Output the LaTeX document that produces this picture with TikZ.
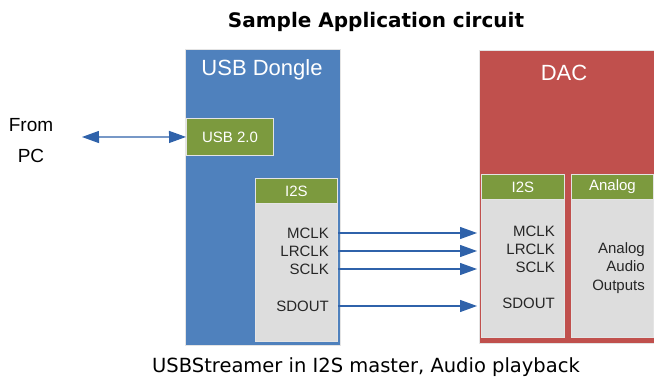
\documentclass[tikz,border=0pt]{standalone}
\usepackage{fontspec}
\setmainfont{Liberation Sans}
\newfontfamily\capfont{DejaVu Sans}
\usetikzlibrary{positioning,arrows.meta}

\definecolor{dongleblue}{HTML}{4F81BD}
\definecolor{dacred}{HTML}{C0504D}
\definecolor{portgreen}{HTML}{7C9A3E}
\definecolor{portgrey}{HTML}{DDDDDD}
\definecolor{wireblue}{HTML}{2F62AA}
\definecolor{rimgrey}{HTML}{E4E4E4}
\definecolor{pintext}{HTML}{262626}

\tikzset{
	block/.style={draw=rimgrey, line width=0.9pt, anchor=north west, inner sep=0pt},
	head/.style={text=white, font=\fontsize{15}{18}\selectfont},
	pin/.style={anchor=east, inner sep=0pt, text=pintext, font=\fontsize{15}{18}\selectfont},
	wire/.style={draw=wireblue, line width=1.2pt, -{Triangle[length=17pt,width=12pt]}},
	dwire/.style={draw=wireblue, line width=1.2pt, {Triangle[length=17pt,width=12pt]}-{Triangle[length=17pt,width=12pt]}}
}

\begin{document}
\begin{tikzpicture}[x=1pt,y=-1pt]
	\useasboundingbox[fill=white] (0,0) rectangle (654,378);

	\node[font=\capfont\bfseries\fontsize{20}{22}\selectfont] (title) at (376,22) {Sample Application circuit};

	\node[block, fill=dongleblue, minimum width=155pt, minimum height=296pt] (dongle) at (185,49) {};
	\node[block, fill=dacred, minimum width=180pt, minimum height=293pt] (dac) at (479,50) {};
	\node[text=white, font=\fontsize{22}{26}\selectfont] (donglename) at (262,70) {USB Dongle};
	\node[text=white, font=\fontsize{22}{26}\selectfont] (dacname) at (564,73) {DAC};

	\node[block, fill=portgreen, minimum width=87pt, minimum height=37pt] (usb) at (186,118) {};
	\node[head] at (usb.center) {USB 2.0};

	\node[block, fill=portgrey, minimum width=82pt, minimum height=163pt] (txport) at (255,178) {};
	\node[block, fill=portgreen, minimum width=82pt, minimum height=25pt] (txhead) at (255,178) {};
	\node[head] at (txhead.center) {I2S};

	\node[block, fill=portgrey, minimum width=83pt, minimum height=163pt] (rxport) at (481,174) {};
	\node[block, fill=portgreen, minimum width=83pt, minimum height=25pt] (rxhead) at (481,174) {};
	\node[head] at (rxhead.center) {I2S};

	\node[block, fill=portgrey, minimum width=82pt, minimum height=163pt] (anport) at (571,174) {};
	\node[block, fill=portgreen, minimum width=82pt, minimum height=25pt] (anhead) at (571,174) {};
	\node[head] at (anhead.center) {Analog};
	\node[pin, align=right, font=\fontsize{15}{18.5}\selectfont] (outs) at (645,268) {Analog\\Audio\\Outputs};

	\node[pin] (mclkout) at (329,233) {MCLK};
	\node[pin] (lrclkout) at (329,251) {LRCLK};
	\node[pin] (sclkout) at (329,269) {SCLK};
	\node[pin] (sdout) at (329,306) {SDOUT};

	\node[pin] (mclkin) at (555,231) {MCLK};
	\node[pin] (lrclkin) at (555,249) {LRCLK};
	\node[pin] (sclkin) at (555,267) {SCLK};
	\node[pin] (sdin) at (555,303) {SDOUT};

	\foreach \s in {mclkout,lrclkout,sclkout,sdout}
		\draw[wire] (\s -| txport.east) -- ([xshift=-2pt]\s -| dac.west);

	\node[align=center, font=\fontsize{19}{31}\selectfont] (pc) at (31,141) {From\\PC};
	\coordinate (pcend) at (82,137);
	\draw[dwire] (pcend) -- (usb.west);

	\node[font=\capfont\fontsize{19.5}{22}\selectfont] (caption) at (366,367) {USBStreamer in I2S master, Audio playback};
\end{tikzpicture}
\end{document}
